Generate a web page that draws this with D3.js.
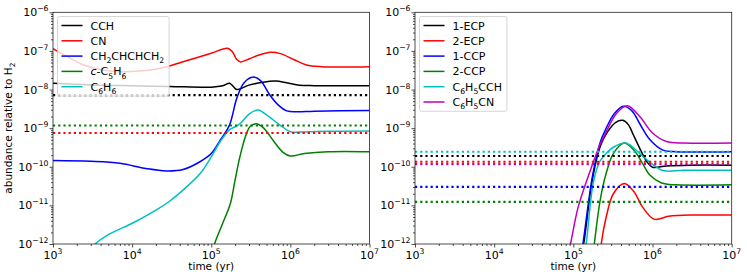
<!DOCTYPE html>
<html><head><meta charset="utf-8">
<script src="https://cdn.jsdelivr.net/npm/d3@7"></script>
<style>body{margin:0;background:#fff}svg{display:block;font-family:"DejaVu Sans",sans-serif}</style>
</head><body><svg id="c" width="747" height="280"></svg>
<script>
// ---------- data ----------
const xTicks = [1e3, 1e4, 1e5, 1e6, 1e7];
const xTickExp = ["3", "4", "5", "6", "7"];
const yTicks = [1e-12, 1e-11, 1e-10, 1e-9, 1e-8, 1e-7, 1e-6];
const yTickExp = ["\u221212", "\u221211", "\u221210", "\u22129", "\u22128", "\u22127", "\u22126"];

// left panel
const leftNames = ["CCH", "CN", "CH_2CHCHCH_2", "*c*-C_5H_6", "C_6H_6"];
const leftColors = ["#000000", "#ff0000", "#0000ff", "#008000", "#00bfbf"];
const cchData = [[1e3,1.45e-8],[3e3,1.32e-8],[1e4,1.25e-8],[3e4,1.2e-8],[1e5,1.15e-8],[1.4e5,1.25e-8],[1.7e5,1.45e-8],[1.9e5,1.2e-8],[2.1e5,1.0e-8],[3e5,1.3e-8],[4.5e5,1.55e-8],[6.5e5,1.66e-8],[9e5,1.5e-8],[1.3e6,1.3e-8],[2e6,1.26e-8],[1e7,1.26e-8]];
const cnData = [[1e3,1.15e-7],[1.5e3,7.2e-8],[2.4e3,4.4e-8],[4e3,3.3e-8],[7e3,2.9e-8],[1.2e4,3.0e-8],[2.2e4,3.5e-8],[4.5e4,5.3e-8],[1e5,8.7e-8],[1.6e5,1.17e-7],[1.85e5,9.5e-8],[2.1e5,6e-8],[2.35e5,5.2e-8],[3e5,6.2e-8],[4e5,7.8e-8],[5.6e5,9.2e-8],[7.5e5,8.5e-8],[1.1e6,6e-8],[1.6e6,4.3e-8],[2.5e6,3.9e-8],[1e7,3.9e-8]];
const butadieneData = [[1e3,1.45e-10],[3e3,1.38e-10],[7e3,1.23e-10],[1.5e4,9e-11],[2.7e4,7.8e-11],[4.4e4,8.5e-11],[7.2e4,1.35e-10],[1e5,2.2e-10],[1.3e5,4.9e-10],[1.7e5,1.2e-9],[2.1e5,5.9e-9],[2.6e5,1.5e-8],[3.4e5,2.1e-8],[4.2e5,1.7e-8],[5.5e5,7.2e-9],[7e5,4e-9],[9e5,2.8e-9],[1.2e6,2.65e-9],[2e6,2.75e-9],[1e7,2.85e-9]];
const c5h6Data = [[9e4,2e-13],[1.1e5,1e-12],[1.4e5,3.5e-12],[1.74e5,1.1e-11],[2e5,4.5e-11],[2.3e5,1.8e-10],[2.7e5,6e-10],[3.1e5,1.1e-9],[3.7e5,1.3e-9],[4.5e5,1.05e-9],[6.2e5,4.5e-10],[8e5,2.4e-10],[1e6,1.9e-10],[1.5e6,2.2e-10],[3e6,2.45e-10],[1e7,2.45e-10]];
const c6h6Data = [[2.5e3,5e-13],[3.4e3,1e-12],[5e3,1.75e-12],[1.05e4,3.6e-12],[2e4,7.5e-12],[3e4,1.3e-11],[4.5e4,2.6e-11],[7.3e4,6.8e-11],[1e5,1.8e-10],[1.3e5,4.5e-10],[1.7e5,9e-10],[2.1e5,1.15e-9],[2.4e5,1.4e-9],[3e5,2.3e-9],[3.9e5,2.95e-9],[5e5,2.2e-9],[7.4e5,1.2e-9],[1e6,8.1e-10],[1.5e6,8e-10],[3e6,8.3e-10],[1e7,8.4e-10]];
const leftObserved = [7.2e-9, 1.17e-9, 7.5e-10];
const leftObservedColors = ["#000000", "#008000", "#ff0000"];

// right panel
const rightNames = ["1-ECP", "2-ECP", "1-CCP", "2-CCP", "C_6H_5CCH", "C_6H_5CN"];
const rightColors = ["#000000", "#ff0000", "#0000ff", "#008000", "#00bfbf", "#bf00bf"];
const ecp1Data = [[1.2e5,3e-13],[1.35e5,1e-12],[1.75e5,5e-11],[2.2e5,3.5e-10],[2.7e5,8e-10],[3.4e5,1.4e-9],[4.2e5,1.6e-9],[5e5,1.2e-9],[5.6e5,7.4e-10],[6.9e5,3e-10],[8.5e5,1.35e-10],[1e6,9.7e-11],[1.5e6,1.05e-10],[3e6,1.1e-10],[1e7,1.1e-10]];
const ecp2Data = [[2.1e5,2e-13],[2.25e5,1e-12],[2.6e5,5e-12],[3.2e5,2e-11],[4.4e5,3.7e-11],[5.8e5,2.3e-11],[7.5e5,9e-12],[1.05e6,4.4e-12],[1.6e6,5.2e-12],[3e6,5.6e-12],[1e7,5.6e-12]];
const ccp1Data = [[1.2e5,3e-13],[1.32e5,1e-12],[1.75e5,6e-11],[2.2e5,4.5e-10],[2.6e5,1e-9],[3.3e5,2.4e-9],[4.3e5,3.7e-9],[5.5e5,2.8e-9],[6.9e5,1.3e-9],[9.3e5,5e-10],[1.35e6,2.7e-10],[2e6,2.45e-10],[1e7,2.45e-10]];
const ccp2Data = [[1.7e5,2e-13],[1.84e5,1e-12],[2.2e5,1.5e-11],[2.6e5,6.8e-11],[3.2e5,2.2e-10],[4.4e5,4.1e-10],[6e5,2.5e-10],[7.5e5,1.2e-10],[9.3e5,6e-11],[1.3e6,3.8e-11],[2e6,3.4e-11],[1e7,3.4e-11]];
const phccData = [[1.3e5,3e-13],[1.45e5,1e-12],[1.78e5,3.7e-11],[2.15e5,1.35e-10],[2.6e5,2.2e-10],[3.2e5,3.2e-10],[4.6e5,4.1e-10],[6.9e5,2.2e-10],[9.3e5,1.3e-10],[1.35e6,8e-11],[2.5e6,8.1e-11],[1e7,8.1e-11]];
const phcnData = [[8e4,3e-13],[9.2e4,1e-12],[1.15e5,9e-12],[1.6e5,7e-11],[2.2e5,4e-10],[2.6e5,8e-10],[3.5e5,2.4e-9],[4.8e5,3.8e-9],[6.9e5,2e-9],[1e6,7.5e-10],[1.5e6,4.5e-10],[2.5e6,4.1e-10],[1e7,4.1e-10]];
const rightObserved = [2.45e-10, 1.9e-10, 1.35e-10, 1.17e-10, 3e-11, 1.23e-11];
const rightObservedColors = ["#00bfbf", "#000000", "#ff0000", "#bf00bf", "#0000ff", "#008000"];

// ---------- drawing ----------
const svg = d3.select("#c");
const yTop = 12.3, yBot = 244;

function richText(sel, str, fs) {
  // "_x" => subscript char, "*..*" => italic
  const parts = [];
  let italic = false;
  for (let i = 0; i < str.length; i++) {
    if (str[i] === "*") { italic = !italic; parts.push({t: "", sub: false, it: italic}); continue; }
    if (str[i] === "_") { parts.push({t: str[i+1], sub: true, it: italic}); i++; }
    else {
      const last = parts[parts.length-1];
      if (last && !last.sub && last.it === italic) last.t += str[i];
      else parts.push({t: str[i], sub: false, it: italic});
    }
  }
  let prevSub = false;
  parts.filter(p => p.t.length).forEach(p => {
    const ts = sel.append("tspan").text(p.t);
    if (p.it) ts.attr("font-style", "italic");
    if (p.sub && !prevSub) ts.attr("dy", fs*0.3).attr("font-size", fs*0.7);
    else if (p.sub) ts.attr("font-size", fs*0.7);
    else if (!p.sub && prevSub) ts.attr("dy", -fs*0.3);
    prevSub = p.sub;
  });
}

function powLabel(sel, exp) {
  sel.append("tspan").text("10");
  sel.append("tspan").text(exp).attr("font-size", 7.7).attr("dy", -5);
}

function panel(x0, x1, id, series, colors, names, obs, obsColors, showYLabel) {
  const x = d3.scaleLog().domain([1e3, 1e7]).range([x0, x1]);
  const y = d3.scaleLog().domain([1e-12, 1e-6]).range([yBot, yTop]);
  const g = svg.append("g");

  g.append("clipPath").attr("id", id).append("rect")
    .attr("x", x0).attr("y", yTop).attr("width", x1 - x0).attr("height", yBot - yTop);

  const plot = g.append("g").attr("clip-path", `url(#${id})`);
  const line = d3.line().x(d => x(d[0])).y(d => y(d[1])).curve(d3.curveCatmullRom.alpha(0.5));

  series.forEach((s, i) => {
    plot.append("path").datum(s).attr("d", line)
      .attr("fill", "none").attr("stroke", colors[i]).attr("stroke-width", 1.5);
  });
  obs.forEach((v, i) => {
    plot.append("path").datum([[1e3, v], [1e7, v]]).attr("d", line)
      .attr("fill", "none").attr("stroke", obsColors[i]).attr("stroke-width", 2.2)
      .attr("stroke-dasharray", "2.2,3");
  });

  // minor ticks
  const xMinor = [];
  for (let e = 3; e < 7; e++) for (let m = 2; m < 10; m++) xMinor.push(m * Math.pow(10, e));
  const yMinor = [];
  for (let e = -12; e < -6; e++) for (let m = 2; m < 10; m++) yMinor.push(m * Math.pow(10, e));

  const ax = g.append("g").attr("transform", `translate(0,${yBot})`)
    .call(d3.axisBottom(x).tickValues(xTicks).tickSize(3.5).tickFormat(() => ""));
  const axm = g.append("g").attr("transform", `translate(0,${yBot})`)
    .call(d3.axisBottom(x).tickValues(xMinor).tickSize(2).tickFormat(() => ""));
  const ay = g.append("g").attr("transform", `translate(${x0},0)`)
    .call(d3.axisLeft(y).tickValues(yTicks).tickSize(3.5).tickFormat(() => ""));
  const aym = g.append("g").attr("transform", `translate(${x0},0)`)
    .call(d3.axisLeft(y).tickValues(yMinor).tickSize(2).tickFormat(() => ""));
  [ax, axm, ay, aym].forEach(a => { a.select(".domain").remove(); a.selectAll("line").attr("stroke", "#222").attr("stroke-width", 0.8); });

  xTicks.forEach((t, i) => {
    const tx = g.append("text").attr("x", x(t)).attr("y", yBot + 14.5)
      .attr("text-anchor", "middle").attr("font-size", 11).attr("fill", "#000");
    powLabel(tx, xTickExp[i]);
  });
  yTicks.forEach((t, i) => {
    const ty = g.append("text").attr("x", x0 - 4.5).attr("y", y(t) + 4)
      .attr("text-anchor", "end").attr("font-size", 11).attr("fill", "#000");
    powLabel(ty, yTickExp[i]);
  });

  g.append("rect").attr("x", x0).attr("y", yTop).attr("width", x1 - x0).attr("height", yBot - yTop)
    .attr("fill", "none").attr("stroke", "#222").attr("stroke-width", 0.8);

  g.append("text").attr("x", (x0 + x1) / 2).attr("y", 270).attr("text-anchor", "middle")
    .attr("font-size", 10.5).text("time (yr)");

  if (showYLabel) {
    const yl = g.append("text").attr("transform", `translate(12,${(yTop + yBot) / 2}) rotate(-90)`)
      .attr("text-anchor", "middle").attr("font-size", 10.5);
    richText(yl, "abundance relative to H_2", 10.5);
  }

  // legend
  const lx = x0 + 4.5, ly = 16.5, rowH = 15.3;
  let maxW = 0;
  const lg = g.append("g");
  const bg = lg.append("rect");
  names.forEach((n, i) => {
    const cy = ly + 9 + i * rowH;
    lg.append("line").attr("x1", lx + 4).attr("x2", lx + 25).attr("y1", cy).attr("y2", cy)
      .attr("stroke", colors[i]).attr("stroke-width", 1.5);
    const t = lg.append("text").attr("x", lx + 33).attr("y", cy + 4).attr("font-size", 11);
    richText(t, n, 11);
    maxW = Math.max(maxW, t.node().getComputedTextLength());
  });
  bg.attr("x", lx).attr("y", ly).attr("width", 33 + maxW + 5).attr("height", names.length * rowH + 3)
    .attr("rx", 2).attr("fill", "#fff").attr("fill-opacity", 0.8).attr("stroke", "#ccc").attr("stroke-width", 0.8);
}

panel(53, 369.5, "clipL", [cchData, cnData, butadieneData, c5h6Data, c6h6Data], leftColors, leftNames,
  leftObserved, leftObservedColors, true);
panel(415, 731.7, "clipR", [ecp1Data, ecp2Data, ccp1Data, ccp2Data, phccData, phcnData], rightColors, rightNames,
  rightObserved, rightObservedColors, false);
</script></body></html>
